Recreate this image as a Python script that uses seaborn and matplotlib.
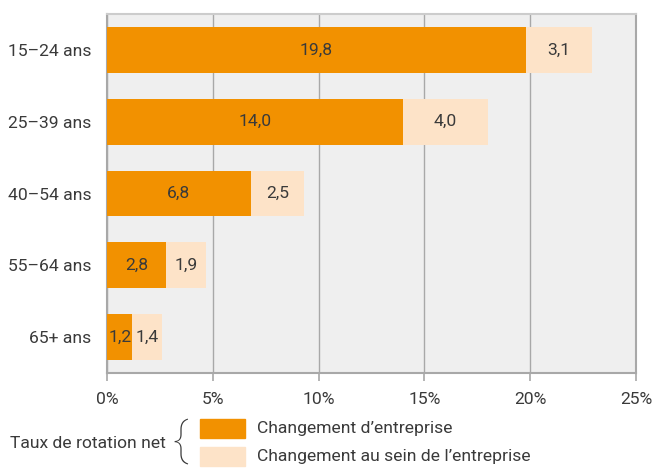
import matplotlib
matplotlib.use("Agg")
import matplotlib.pyplot as plt
import seaborn as sns
import pandas as pd

categories = ["15–24 ans", "25–39 ans", "40–54 ans", "55–64 ans", "65+ ans"]
changement_entreprise = [19.8, 14.0, 6.8, 2.8, 1.2]
changement_interne = [3.1, 4.0, 2.5, 1.9, 1.4]
x_ticks = [0, 5, 10, 15, 20, 25]

orange = "#F29100"
light = "#FDE3C8"
grid_col = "#a8a8a8"
text_col = "#3a3a3a"
fs = 12.6

sns.set_style("white")
plt.rcParams["font.family"] = ["Roboto", "DejaVu Sans"]

df = pd.DataFrame({
    "cat": categories,
    "ent": changement_entreprise,
    "interne": changement_interne,
})
df["total"] = df["ent"] + df["interne"]

fig = plt.figure(figsize=(6.52, 4.68), dpi=100)
ax = fig.add_axes([0.164, 0.203, 0.8115, 0.767])
ax.set_facecolor("#efefef")

sns.barplot(data=df, x="total", y="cat", color=light, width=0.64,
            saturation=1, linewidth=0, ax=ax, zorder=3)
sns.barplot(data=df, x="ent", y="cat", color=orange, width=0.64,
            saturation=1, linewidth=0, ax=ax, zorder=3)

fmt = lambda v: f"{v:.1f}".replace(".", ",")
for i, (e, c) in enumerate(zip(changement_entreprise, changement_interne)):
    ax.text(e / 2, i, fmt(e), ha="center", va="center", fontsize=fs, color=text_col, zorder=4)
    ax.text(e + c / 2, i, fmt(c), ha="center", va="center", fontsize=fs, color=text_col, zorder=4)

ax.set_xlim(0, 25)
ax.set_ylim(4.5, -0.5)
ax.set_xticks(x_ticks)
ax.set_xticklabels([f"{t}%" for t in x_ticks])
ax.set_xlabel("")
ax.set_ylabel("")
ax.xaxis.grid(True, color=grid_col, linewidth=1, zorder=1)
ax.set_axisbelow(True)
for s in ax.spines.values():
    s.set_visible(True)
    s.set_color(grid_col)
    s.set_linewidth(1.5)
ax.spines["top"].set_color("#cccccc")
ax.tick_params(axis="x", bottom=True, length=6, width=1.2, color=grid_col,
               labelsize=fs, labelcolor=text_col, pad=8)
ax.tick_params(axis="y", left=False, length=0, labelsize=fs, labelcolor=text_col, pad=11)

# legend
fig.text(10 / 652, 1 - 443 / 468, "Taux de rotation net", fontsize=fs,
         color=text_col, ha="left", va="center")
fig.text(180 / 652, 1 - 441 / 468, "{", fontsize=34, color=text_col,
         ha="center", va="center", fontweight="light")
for k, (col, lab) in enumerate([(orange, "Changement d’entreprise"),
                                (light, "Changement au sein de l’entreprise")]):
    y0 = 1 - (438 + 28 * k) / 468
    fig.patches.append(plt.Rectangle((200 / 652, y0), 45 / 652, 19 / 468,
                                     transform=fig.transFigure, color=col))
    fig.text(257 / 652, y0 + 9.5 / 468, lab, fontsize=fs, color=text_col,
             ha="left", va="center")

fig.savefig("out.png", dpi=100)
